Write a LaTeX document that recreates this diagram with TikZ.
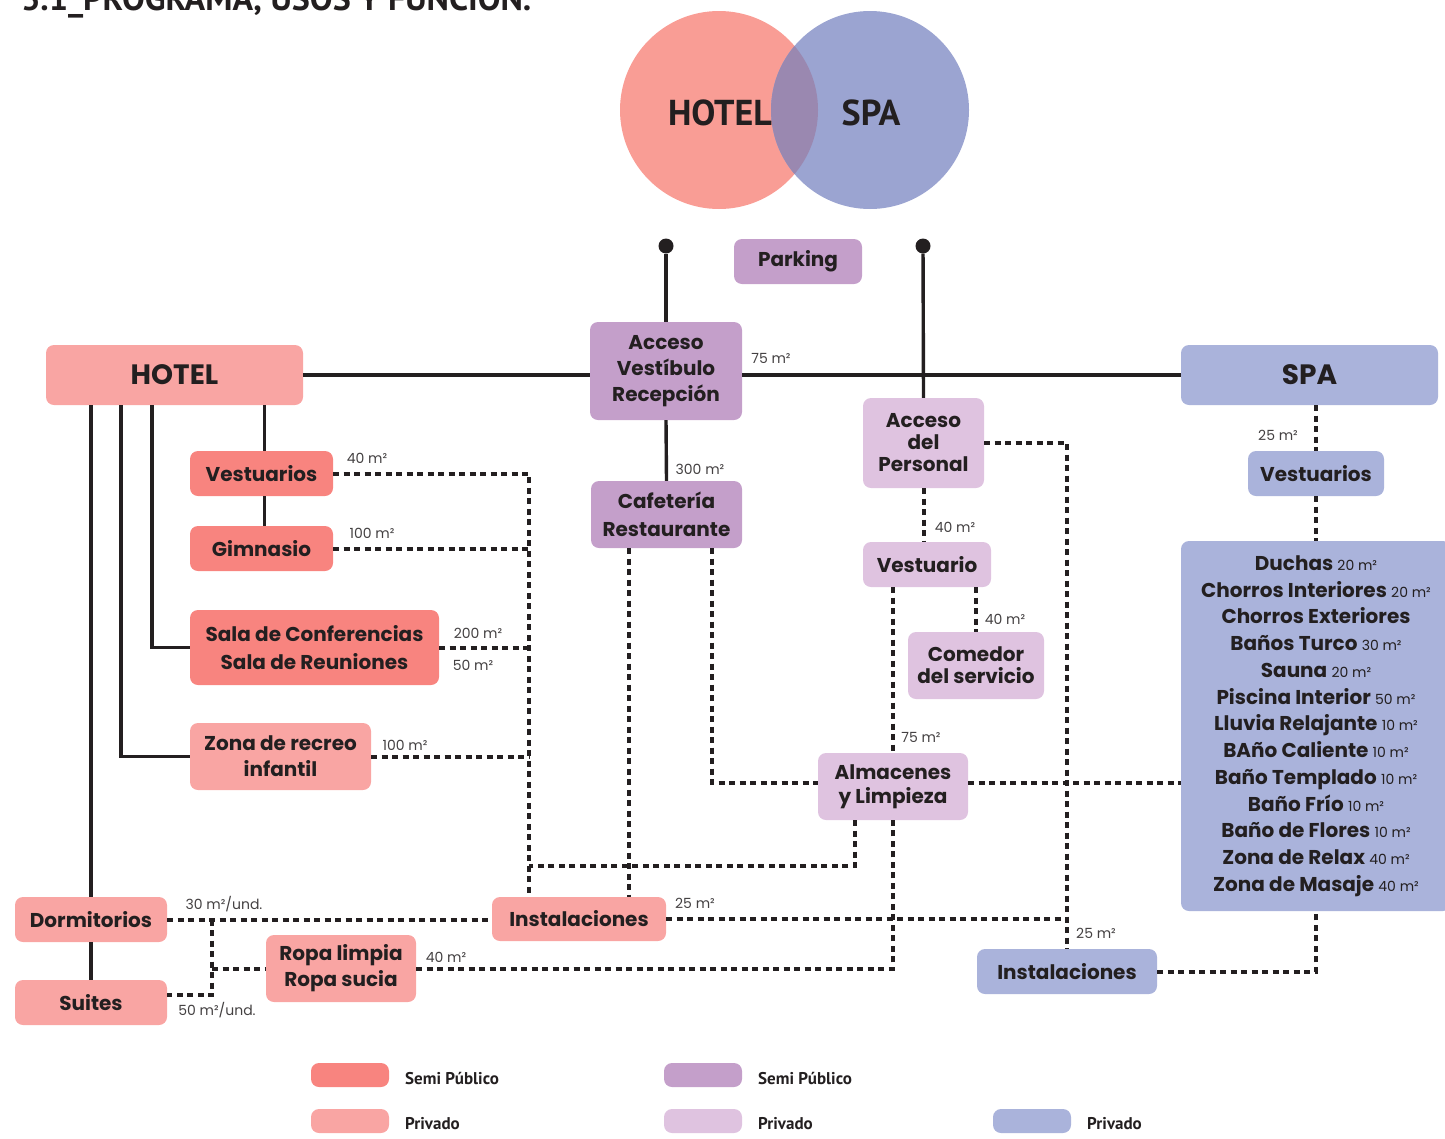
\documentclass[tikz,border=0pt]{standalone}
\usepackage{fontspec}
\setmainfont{Poppins}
\newfontfamily\condfont{PT Sans}
\usetikzlibrary{calc}
\definecolor{ink}{HTML}{231F20}
\definecolor{hotelsemi}{HTML}{F8847F}
\definecolor{hotelpriv}{HTML}{F9A5A3}
\definecolor{acsemi}{HTML}{C49FCA}
\definecolor{acpriv}{HTML}{DFC3E0}
\definecolor{spapriv}{HTML}{AAB3DB}
\definecolor{circhotel}{HTML}{F99D95}
\definecolor{circspa}{HTML}{9BA4D1}
\definecolor{circboth}{HTML}{9A88B0}
\newcommand\sqm[1]{{\mdseries\fontsize{14}{14}\selectfont #1 m²}}
\tikzset{
  box/.style={rounded corners=8pt, inner sep=0pt, align=center, text=ink, font=\bfseries\fontsize{20}{26}\selectfont},
  hsemi/.style={box, fill=hotelsemi},
  hpriv/.style={box, fill=hotelpriv},
  asemi/.style={box, fill=acsemi},
  apriv/.style={box, fill=acpriv},
  spriv/.style={box, fill=spapriv},
  link/.style={draw=ink, line width=3.4pt},
  dotline/.style={draw=ink, line width=4pt, dash pattern=on 6pt off 4.5pt},
  area/.style={text=ink!85, inner sep=0pt, font=\fontsize{14}{14}\selectfont},
  knob/.style={circle, fill=ink, inner sep=0pt, minimum size=15pt},
  legendbox/.style={rounded corners=8pt, minimum width=78pt, minimum height=24pt},
  legendtext/.style={anchor=west, inner sep=0pt, text=ink, font=\condfont\bfseries\fontsize{17}{17}\selectfont}
}
\begin{document}
\begin{tikzpicture}[x=1pt,y=-1pt]
\useasboundingbox (0,0) rectangle (1445,1138);
\node[anchor=base west, inner sep=0pt, text=ink, font=\condfont\bfseries\fontsize{34}{34}\selectfont] (title) at (21,10) {3.1\_PROGRAMA, USOS Y FUNCIÓN.};
\fill[circhotel] (719,110) circle (99pt);
\fill[circspa] (870,110) circle (99pt);
\begin{scope}
  \clip (719,110) circle (99pt);
  \fill[circboth] (870,110) circle (99pt);
\end{scope}
\node[text=ink, font=\condfont\bfseries\fontsize{36}{36}\selectfont] (chotel) at (720,113) {HOTEL};
\node[text=ink, font=\condfont\bfseries\fontsize{36}{36}\selectfont] (cspa) at (871,113) {SPA};

\node[knob] (d1) at (666,246) {};
\node[knob] (d2) at (923,246) {};
\node[asemi, minimum width=128pt, minimum height=45pt] (parking) at (798,261.5) {Parking};

\node[hpriv, minimum width=257pt, minimum height=60pt, font=\bfseries\fontsize{28}{28}\selectfont] (hotel) at (174.5,375) {HOTEL};
\node[spriv, minimum width=257pt, minimum height=60pt, font=\bfseries\fontsize{28}{28}\selectfont] (spa) at (1309.5,375) {SPA};
\node[asemi, minimum width=152pt, minimum height=98pt] (acc) at (666,371) {Acceso\\Vestíbulo\\Recepción};
\node[asemi, minimum width=151pt, minimum height=67pt] (caf) at (666.5,514.5) {Cafetería\\[2pt]Restaurante};
\node[apriv, minimum width=121pt, minimum height=90pt] (accp) at (923.5,443) {Acceso\\[-4pt]del\\[-4pt]Personal};
\node[apriv, minimum width=128pt, minimum height=45pt] (vest) at (927,564.5) {Vestuario};
\node[apriv, minimum width=136pt, minimum height=67pt] (com) at (976,665.5) {Comedor\\[-4pt]del servicio};
\node[apriv, minimum width=150pt, minimum height=67pt] (alm) at (893,786.5) {Almacenes\\[-2pt]y Limpieza};
\node[hpriv, minimum width=174pt, minimum height=44pt] (inst1) at (579,919) {Instalaciones};
\node[spriv, minimum width=180pt, minimum height=45pt] (inst2) at (1067,971.5) {Instalaciones};
\node[spriv, minimum width=136pt, minimum height=45pt] (spavest) at (1316,473.5) {Vestuarios};
\node[spriv, minimum width=270pt, minimum height=370pt, font=\bfseries\fontsize{20}{26.75}\selectfont] (list) at (1316,726)
  {Duchas \sqm{20}\\Chorros Interiores \sqm{20}\\Chorros Exteriores\\Baños Turco \sqm{30}\\Sauna \sqm{20}\\Piscina Interior \sqm{50}\\Lluvia Relajante \sqm{10}\\BAño Caliente \sqm{10}\\Baño Templado \sqm{10}\\Baño Frío \sqm{10}\\Baño de Flores \sqm{10}\\Zona de Relax \sqm{40}\\Zona de Masaje \sqm{40}};
\node[hsemi, minimum width=143pt, minimum height=45pt] (hvest) at (261.5,473.5) {Vestuarios};
\node[hsemi, minimum width=143pt, minimum height=45pt] (gim) at (261.5,548.5) {Gimnasio};
\node[hsemi, minimum width=249pt, minimum height=75pt] (sala) at (314.5,647.5) {Sala de Conferencias\\[2pt]Sala de Reuniones};
\node[hpriv, minimum width=181pt, minimum height=67pt] (zona) at (280.5,756.5) {Zona de recreo\\infantil};
\node[hpriv, minimum width=152pt, minimum height=45pt] (dorm) at (91,919.5) {Dormitorios};
\node[hpriv, minimum width=152pt, minimum height=45pt] (suites) at (91,1002.5) {Suites};
\node[hpriv, minimum width=150pt, minimum height=67pt] (ropa) at (341,968.5) {Ropa limpia\\Ropa sucia};

\coordinate (bus) at ($(inst1.north west)+(37,0)$);
\coordinate (j1) at (529,866);
\coordinate (s1) at (212,995);

\draw[link] (d1) -- (acc.north);
\draw[link] (d2) -- (accp.north);
\draw[link] (hotel.east) -- (hotel.east -| acc.west);
\draw[link] (acc.east |- spa.west) -- (spa.west);
\draw[link] (acc.south) -- (caf.north);
\draw[link] (hotel.south -| dorm.north) -- (dorm.north);
\draw[link] (dorm.south) -- (suites.north);
\draw[link] (zona.west) -| ($(hotel.south west)+(75,0)$);
\draw[link] (sala.west) -| ($(hotel.south west)+(106,0)$);
\draw[link] ($(hotel.south -| hvest.north)+(3,0)$) -- ($(hvest.north)+(3,0)$);
\draw[link] ($(hvest.south)+(3,0)$) -- ($(gim.north)+(3,0)$);

\draw[dotline] (hvest.east) -| (bus);
\draw[dotline] (gim.east) -- (gim.east -| bus);
\draw[dotline] (sala.east) -- (sala.east -| bus);
\draw[dotline] (zona.east) -- (zona.east -| bus);
\draw[dotline] ($(alm.south)+(-38,0)$) |- (j1);
\draw[dotline] ($(caf.south)+(-38,0)$) coordinate (c1) -- (c1 |- inst1.north);
\draw[dotline] ($(caf.south)+(45,0)$) |- ($(alm.west)+(0,-4)$);
\draw[dotline] (accp.south) -- (accp.south |- vest.north);
\draw[dotline] (vest.south -| com.north) -- (com.north);
\draw[dotline] (vest.south -| alm.north) -- (alm.north);
\draw[dotline] (ropa.east) -| (alm.south);
\draw[dotline] ($(alm.east)+(0,-4)$) -- ($(alm.east -| list.west)+(0,-4)$);
\draw[dotline] (accp.east) -| (inst2.north);
\draw[dotline] (inst1.east) -- (inst1.east -| inst2.north);
\draw[dotline] (inst2.east) -| (spavest |- list.south);
\draw[dotline] (spa.south -| spavest) -- (spavest.north);
\draw[dotline] (spavest.south) -- (spavest |- list.north);
\draw[dotline] (dorm.east) -- (dorm.east -| inst1.west);
\draw[dotline] (dorm.east -| s1) -- (s1) -- (s1 -| suites.east);
\draw[dotline] (s1 |- ropa.west) -- (ropa.west);

\node[area] (a1) at (771,358) {75 m²};
\node[area] (a2) at (700,469) {300 m²};
\node[area] (a3) at (955,527) {40 m²};
\node[area] (a4) at (1005,619) {40 m²};
\node[area] (a5) at (921,737) {75 m²};
\node[area] (a6) at (1278,435) {25 m²};
\node[area] (a7) at (1096,933) {25 m²};
\node[area] (a8) at (695,903) {25 m²};
\node[area] (a9) at (367,458) {40 m²};
\node[area] (a10) at (372,533) {100 m²};
\node[area] (a11) at (478,633) {200 m²};
\node[area] (a12) at (473,665) {50 m²};
\node[area] (a13) at (405,745) {100 m²};
\node[area] (a14) at (224,904) {30 m²/und.};
\node[area] (a15) at (217,1010) {50 m²/und.};
\node[area] (a16) at (446,957) {40 m²};

\node[legendbox, fill=hotelsemi] (k1) at (350,1075) {};
\node[legendbox, fill=hotelpriv] (k2) at (350,1121) {};
\node[legendbox, fill=acsemi] (k3) at (703,1075) {};
\node[legendbox, fill=acpriv] (k4) at (703,1121) {};
\node[legendbox, fill=spapriv] (k5) at (1032,1121) {};
\node[legendtext] (t1) at (405,1078) {Semi Público};
\node[legendtext] (t2) at (405,1124) {Privado};
\node[legendtext] (t3) at (758,1078) {Semi Público};
\node[legendtext] (t4) at (758,1124) {Privado};
\node[legendtext] (t5) at (1087,1124) {Privado};
\end{tikzpicture}
\end{document}
